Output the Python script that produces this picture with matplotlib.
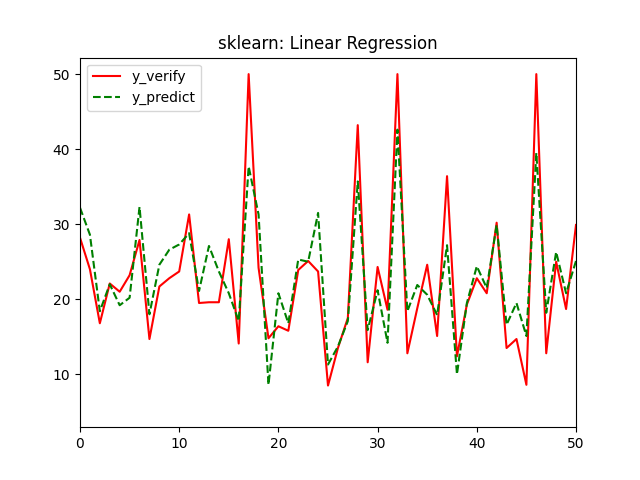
import matplotlib
matplotlib.use('Agg')
import matplotlib.pyplot as plt

# values (first 51 test samples)
y_verify = [28.2, 24.0, 16.8, 22.1, 21.0, 23.2, 27.9, 14.7, 21.7, 22.8,
            23.7, 31.3, 19.5, 19.6, 19.6, 28.0, 14.1, 50.0, 24.2, 14.8,
            16.4, 15.8, 23.9, 25.1, 23.7, 8.5, 13.5, 17.5, 43.2, 11.6,
            24.3, 18.6, 50.0, 12.8, 18.8, 24.6, 15.1, 36.4, 12.4, 19.3,
            22.8, 20.8, 30.2, 13.5, 14.7, 8.6, 50.0, 12.8, 25.0, 18.7,
            29.9]
y_predict = [32.2, 28.6, 18.4, 22.0, 19.2, 20.2, 32.3, 18.0, 24.6, 26.6,
             27.3, 28.8, 21.1, 27.1, 23.7, 20.8, 17.1, 37.7, 31.3, 8.6,
             20.8, 16.8, 25.3, 25.0, 31.5, 11.3, 13.7, 17.1, 35.7, 15.9,
             21.2, 14.2, 42.6, 18.4, 21.9, 20.6, 17.9, 27.2, 10.0, 19.5,
             24.4, 21.5, 29.9, 16.6, 19.5, 15.1, 39.5, 18.2, 26.3, 20.8,
             25.1]
x = list(range(len(y_verify)))

plt.figure(figsize=(6.4, 4.8), dpi=100)
plt.plot(x, y_verify, 'r-', label='y_verify')
plt.plot(x, y_predict, 'g--', label='y_predict')
plt.xlim(0, 50)
plt.ylim(2.95, 52.2)
plt.title('sklearn: Linear Regression')
plt.legend(loc='upper left')
plt.savefig('out.png')
